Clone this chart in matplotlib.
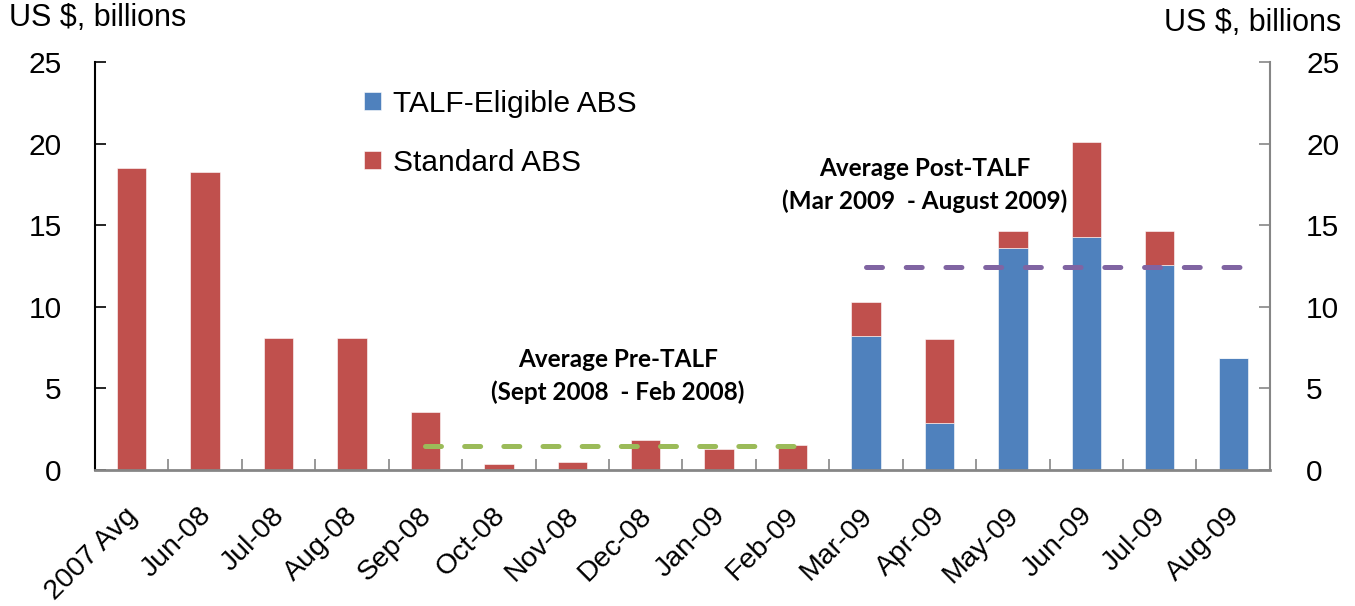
import matplotlib
matplotlib.use("Agg")
import matplotlib.pyplot as plt
import matplotlib.transforms as mtrans
import numpy as np

plt.rcParams['font.family'] = ['Liberation Sans', 'DejaVu Sans']
plt.rcParams['lines.scale_dashes'] = False

# data (US $ billions)
months = ['2007 Avg', 'Jun-08', 'Jul-08', 'Aug-08', 'Sep-08', 'Oct-08', 'Nov-08',
          'Dec-08', 'Jan-09', 'Feb-09', 'Mar-09', 'Apr-09', 'May-09', 'Jun-09',
          'Jul-09', 'Aug-09']
talf_abs = [0, 0, 0, 0, 0, 0, 0, 0, 0, 0, 8.21, 2.88, 13.60, 14.28, 12.56, 6.86]
standard_abs = [18.5, 18.26, 8.09, 8.09, 3.55, 0.37, 0.49, 1.84, 1.29, 1.53,
                2.08, 5.15, 1.04, 5.82, 2.08, 0]
pre_range = ['Sep-08', 'Feb-09']
pre_avg = 1.47
post_range = ['Mar-09', 'Aug-09']
post_avg = 12.44

blue = '#4F81BD'
red = '#C0504D'
green = '#9BBB59'
purple = '#8064A2'
grey = '#868686'
fs = 21.5

fig = plt.figure(figsize=(13.55, 6.06), dpi=100)
ax = fig.add_axes([0.0701, 0.2244, 0.8671, 0.6733])

x = np.arange(len(months))
ax.bar(x, talf_abs, width=0.4, color=blue, edgecolor='white', linewidth=0.4,
       label='TALF-Eligible ABS')
ax.bar(x, standard_abs, width=0.4, bottom=talf_abs, color=red, edgecolor='white',
       linewidth=0.4, label='Standard ABS')

# average lines
i0, i1 = months.index(pre_range[0]), months.index(pre_range[1])
ax.plot([x[i0], x[i1] + 0.03], [pre_avg, pre_avg], color=green, lw=3.6,
        dashes=(11.5, 16.7), dash_capstyle='round')
j0, j1 = months.index(post_range[0]), months.index(post_range[1])
ax.plot([x[j0], x[j1] + 0.1], [post_avg, post_avg], color=purple, lw=3.6,
        dashes=(11.5, 17.1), dash_capstyle='round')

ax.set_xlim(-0.5, len(months) - 0.5)
ax.set_ylim(0, 25)
ax.set_yticks([0, 5, 10, 15, 20, 25])
ax.tick_params(axis='y', direction='in', length=8, width=1.2, labelsize=fs, pad=24)

ax.set_xticks(x)
ax.set_xticklabels(months, rotation=45, ha='right', rotation_mode='anchor')
ax.tick_params(axis='x', length=0, labelsize=20.5, pad=22)
shift = mtrans.ScaledTranslation(-7 / 100, -2 / 100, fig.dpi_scale_trans)
for lab in ax.get_xticklabels():
    lab.set_transform(lab.get_transform() + shift)
ax.set_xticks(np.arange(-0.5, len(months), 1), minor=True)
ax.tick_params(axis='x', which='minor', direction='in', length=8, width=1.2,
               color=grey)

for s in ['top', 'right']:
    ax.spines[s].set_visible(False)
ax.spines['left'].set_linewidth(1.5)
ax.spines['bottom'].set_color(grey)
ax.spines['bottom'].set_linewidth(2)

ax2 = ax.twinx()
ax2.set_ylim(0, 25)
ax2.set_yticks([0, 5, 10, 15, 20, 25])
ax2.tick_params(axis='y', direction='in', length=8, width=1.2, color=grey,
                labelsize=fs, pad=26)
for s in ['top', 'left', 'bottom']:
    ax2.spines[s].set_visible(False)
ax2.spines['right'].set_color(grey)
ax2.spines['right'].set_linewidth(1.5)

fig.text(0.007, 0.97, 'US $, billions', fontsize=22, va='center', ha='left')
fig.text(0.990, 0.962, 'US $, billions', fontsize=22, va='center', ha='right')

ax.legend(loc='upper left', bbox_to_anchor=(0.269, 0.852), bbox_transform=fig.transFigure,
          frameon=False, fontsize=fs, handlelength=0.55, handleheight=0.55,
          handletextpad=0.4, labelspacing=1.05, borderpad=0, borderaxespad=0)

ann = dict(fontsize=17.5, fontweight='bold', family=['Lato', 'DejaVu Sans'],
           ha='center', va='center', linespacing=1.5)
fig.text(618 / 1355, 1 - 376 / 606, 'Average Pre-TALF\n(Sept 2008  - Feb 2008)', **ann)
fig.text(925 / 1355, 1 - 185 / 606, 'Average Post-TALF\n(Mar 2009  - August 2009)', **ann)

fig.savefig('out.png', dpi=100)
